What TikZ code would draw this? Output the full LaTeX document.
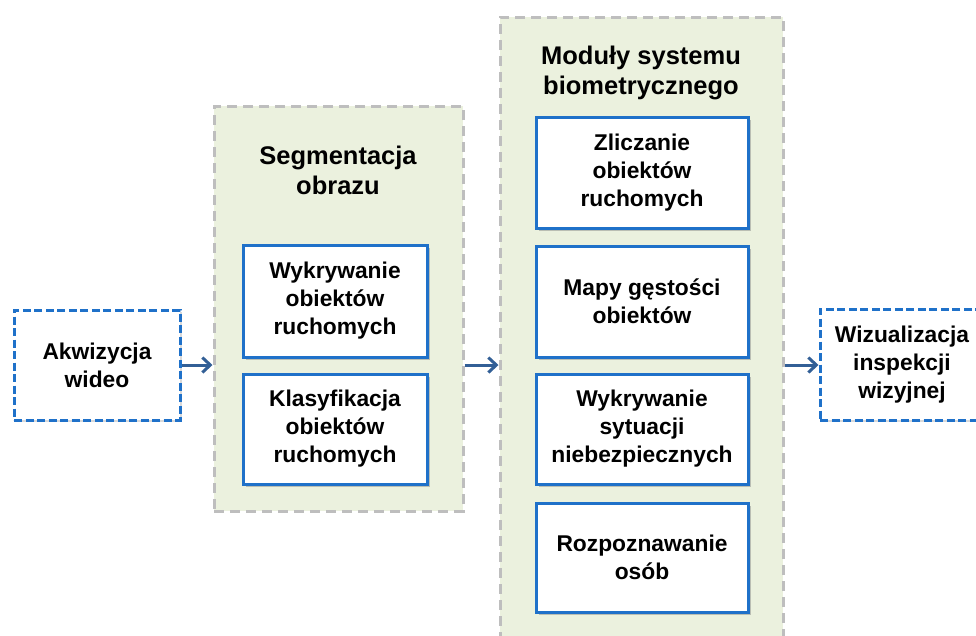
\documentclass[tikz,border=0pt]{standalone}
\usepackage{fontspec}
\setmainfont{Liberation Sans}
\usetikzlibrary{arrows.meta,shadows,calc}
\definecolor{boxblue}{RGB}{31,113,201}
\definecolor{arrblue}{RGB}{50,95,150}
\definecolor{grpgray}{RGB}{190,190,190}
\definecolor{grpfill}{RGB}{235,241,222}
\tikzset{
  grp/.style={draw=grpgray, fill=grpfill, line width=3pt, dash pattern=on 10pt off 6pt, inner sep=0pt},
  iobox/.style={draw=boxblue, fill=white, line width=3pt, dash pattern=on 8pt off 3.5pt,
    align=center, font=\fontsize{22.8}{28}\selectfont\bfseries, inner sep=0pt,
    drop shadow={shadow xshift=2pt, shadow yshift=-2pt, opacity=0.3, fill=gray}},
  modbox/.style={draw=boxblue, fill=white, line width=3pt, align=center,
    font=\fontsize{22.8}{28}\selectfont\bfseries, inner sep=0pt,
    minimum width=212pt,
    drop shadow={shadow xshift=3pt, shadow yshift=-3pt, opacity=0.45, fill=gray}},
  grptitle/.style={align=center, font=\fontsize{25.5}{30}\selectfont\bfseries, inner sep=0pt},
  flow/.style={draw=arrblue, line width=3pt, -{Straight Barb[length=8pt,width=15pt,line width=3pt]}}
}
\begin{document}
\begin{tikzpicture}[x=1pt,y=-1pt]
\useasboundingbox (0,0) rectangle (976,635);
% groups
\node[grp, minimum width=249pt, minimum height=405pt] (seg) at (338.5,308.5) {};
\node[grp, minimum width=283pt, minimum height=643pt] (mod) at (641.5,338.5) {};
\node[grptitle] (segt) at (338,170) {Segmentacja\\obrazu};
\node[grptitle] (modt) at (641,73) {Moduły systemu\\biometrycznego};
% io boxes
\node[iobox, minimum width=166pt, minimum height=110pt] (akw) at (97,365) {Akwizycja\\wideo};
\node[iobox, minimum width=164pt, minimum height=111pt] (wiz) at (902,364.5) {Wizualizacja\\inspekcji\\wizyjnej};
% segmentation boxes
\node[modbox, minimum width=184pt, minimum height=112pt] (wyk) at (335,301) {Wykrywanie\\obiektów\\ruchomych};
\node[modbox, minimum width=184pt, minimum height=110pt] (kla) at (335,429) {Klasyfikacja\\obiektów\\ruchomych};
% module boxes
\node[modbox, minimum height=111pt] (zl) at (642,172.5) {Zliczanie\\obiektów\\ruchomych};
\node[modbox, minimum height=111pt] (mg) at (642,301.5) {Mapy gęstości\\obiektów};
\node[modbox, minimum height=110pt] (ws) at (642,429) {Wykrywanie\\sytuacji\\niebezpiecznych};
\node[modbox, minimum height=109pt] (ro) at (642,557.5) {Rozpoznawanie\\osób};
% arrows
\draw[flow] (akw.east) -- (akw.east -| seg.west);
\draw[flow] (akw.east -| seg.east) -- (akw.east -| mod.west);
\draw[flow] (akw.east -| mod.east) -- (wiz.west |- akw.east);
\end{tikzpicture}
\end{document}
